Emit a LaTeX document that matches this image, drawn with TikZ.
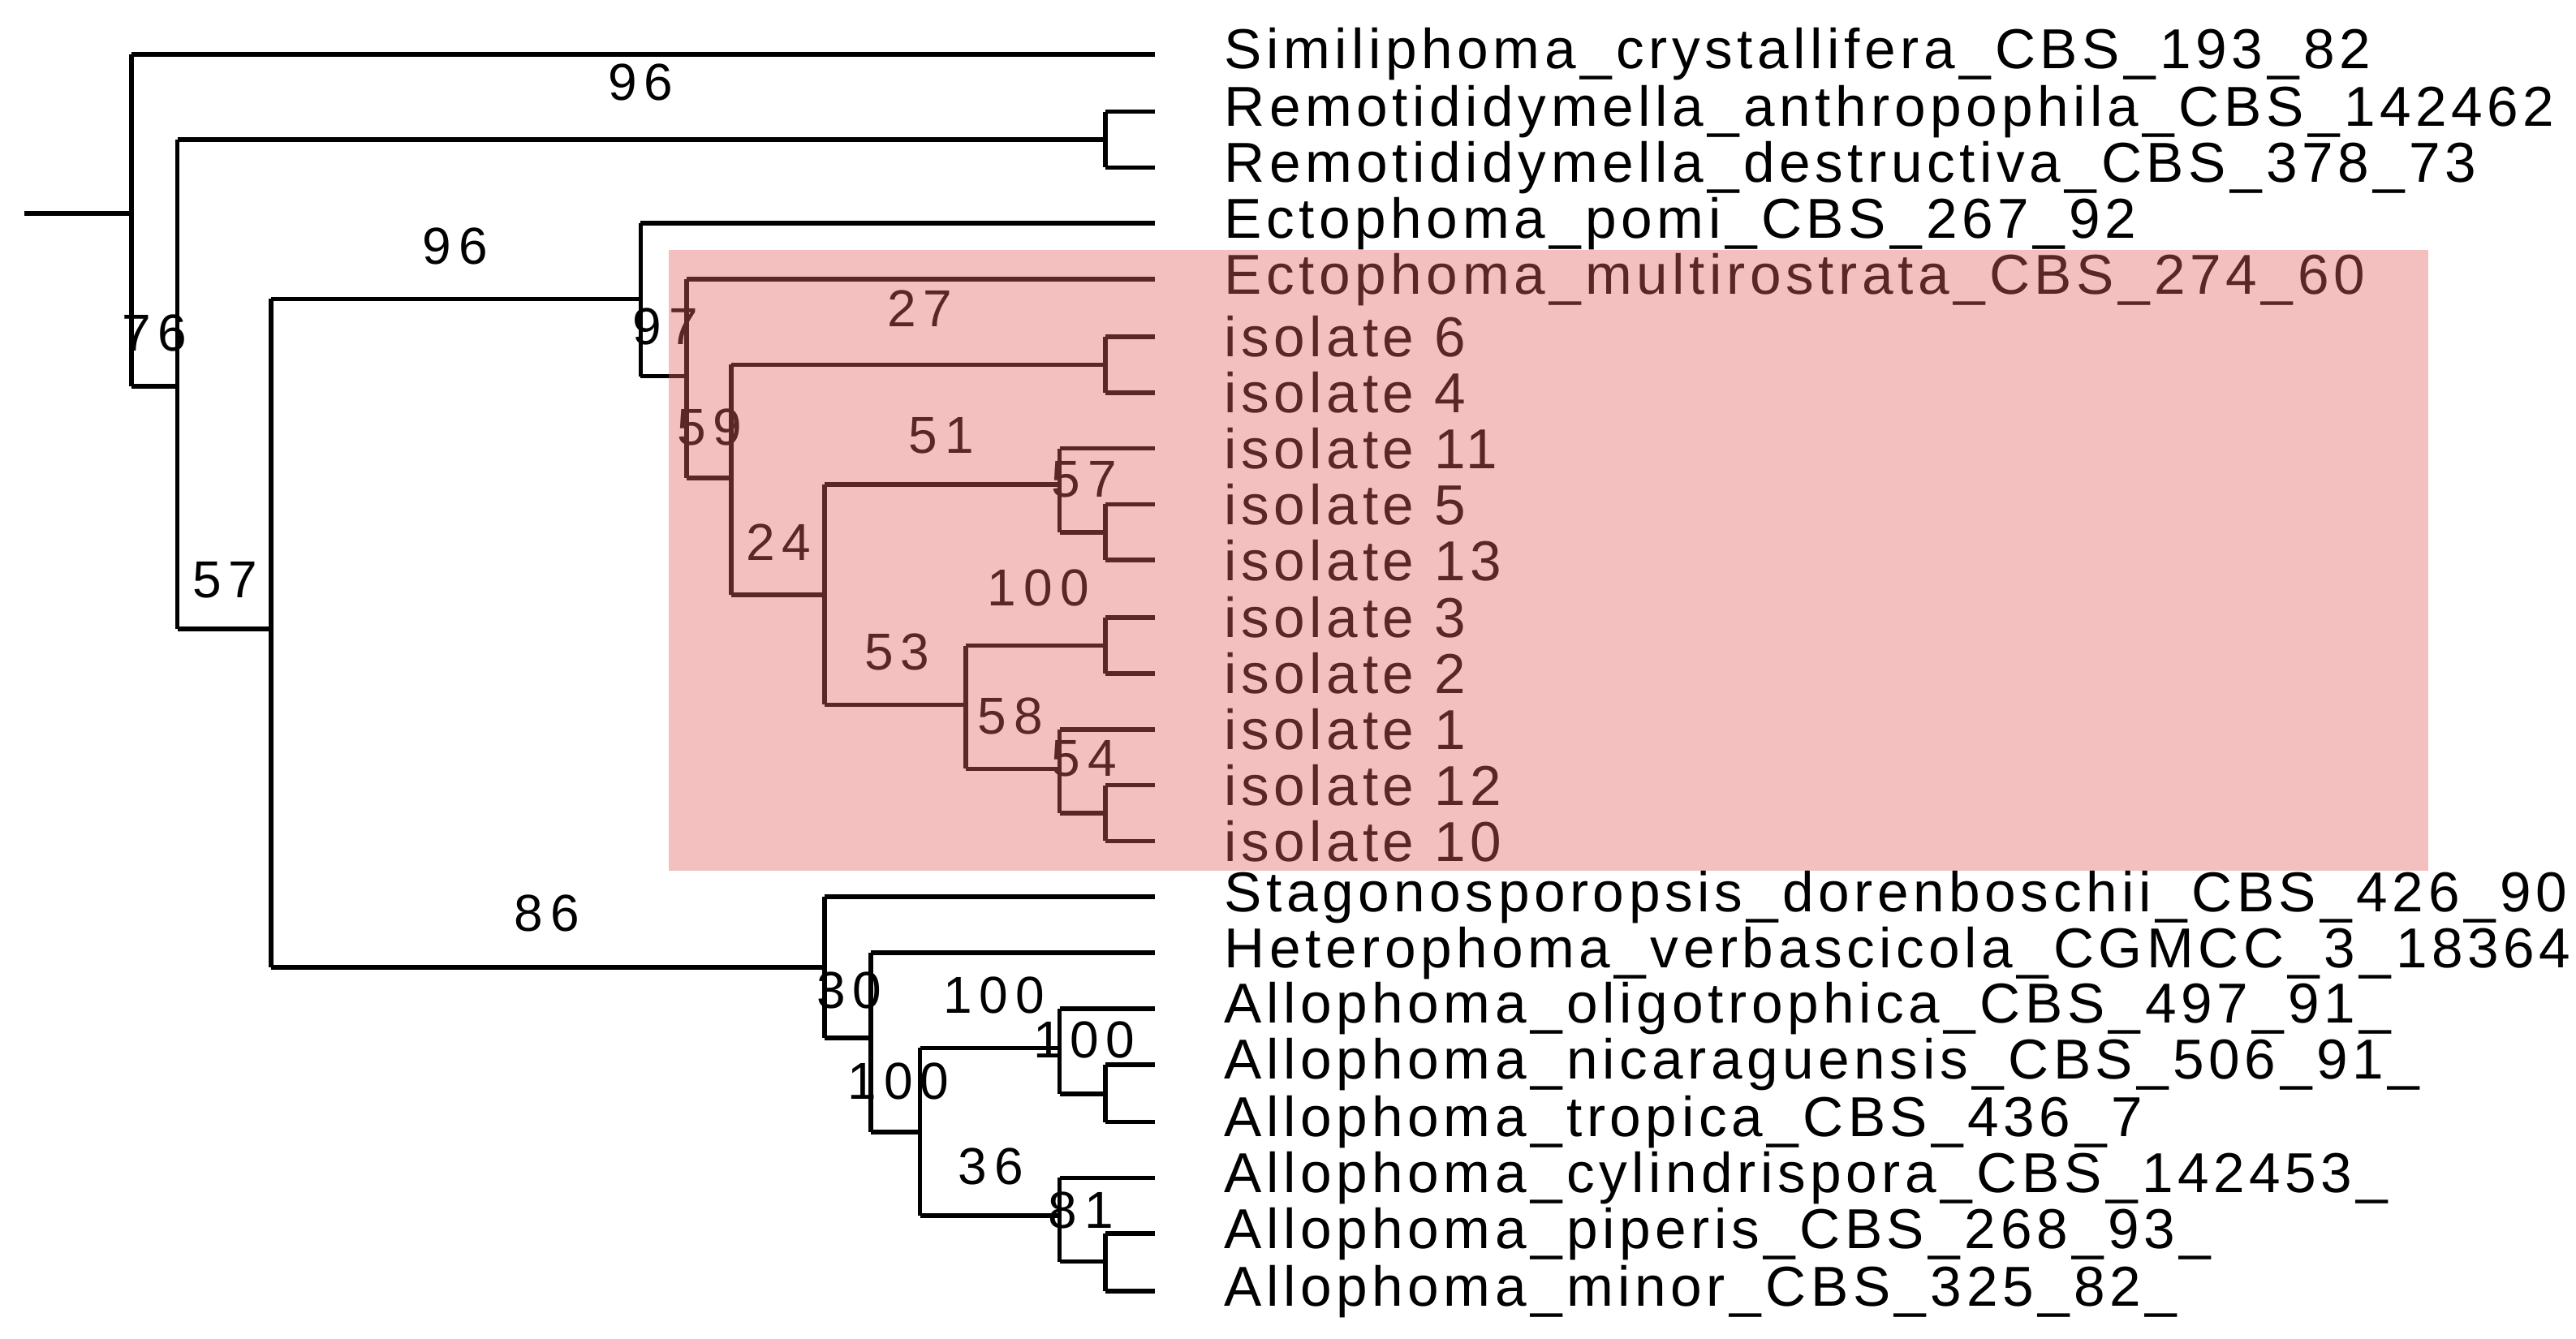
\documentclass[tikz,border=0pt]{standalone}
\usepackage{fontspec}
\setmainfont{Liberation Sans}
\newfontfamily\lfont[LetterSpace=8]{Liberation Sans}
\newfontfamily\nfont[LetterSpace=14]{Liberation Sans}
\begin{document}
\begin{tikzpicture}[x=0.02cm,y=-0.02cm,
 br/.style={line width=1.6pt},
 leaf/.style={anchor=west,inner sep=0pt,font=\lfont\fontsize{19.5}{20}\selectfont},
 bs/.style={inner sep=0pt,font=\nfont\fontsize{18}{20}\selectfont}]
\useasboundingbox (0,0) rectangle (1568,815);
% leaves
\foreach \n/\y/\t in {Sim/33/Similiphoma\_crystallifera\_CBS\_193\_82,
 Ran/68/Remotididymella\_anthropophila\_CBS\_142462,
 Rde/102/Remotididymella\_destructiva\_CBS\_378\_73,
 Epo/136/Ectophoma\_pomi\_CBS\_267\_92,
 Emu/170/Ectophoma\_multirostrata\_CBS\_274\_60,
 i6/205/isolate 6, i4/239/isolate 4, i11/273/isolate 11, i5/307/isolate 5,
 i13/341/isolate 13, i3/376/isolate 3, i2/410/isolate 2, i1/444/isolate 1,
 i12/478/isolate 12, i10/512/isolate 10,
 Sdo/546/Stagonosporopsis\_dorenboschii\_CBS\_426\_90,
 Hve/580/Heterophoma\_verbascicola\_CGMCC\_3\_18364,
 Aol/614/Allophoma\_oligotrophica\_CBS\_497\_91\_,
 Ani/648/Allophoma\_nicaraguensis\_CBS\_506\_91\_,
 Atr/683/Allophoma\_tropica\_CBS\_436\_7,
 Acy/717/Allophoma\_cylindrispora\_CBS\_142453\_,
 Api/751/Allophoma\_piperis\_CBS\_268\_93\_,
 Ami/786/Allophoma\_minor\_CBS\_325\_82\_}
 {\node[leaf] (\n) at (745,\y) {\t}; \coordinate (t\n) at (703,\y);}
% internal nodes
\coordinate (root) at (15,130);
\coordinate (a) at (80,130);
\coordinate (b) at (108,235);
\coordinate (r) at (673,85);
\coordinate (c) at (165,383);
\coordinate (d) at (390,182);
\coordinate (e) at (418,229);
\coordinate (f) at (445,291);
\coordinate (g) at (673,222);
\coordinate (h) at (502,362);
\coordinate (k) at (645,295);
\coordinate (l) at (673,324);
\coordinate (m) at (588,429);
\coordinate (n) at (673,393);
\coordinate (o) at (645,468);
\coordinate (p) at (673,495);
\coordinate (q) at (502,589);
\coordinate (s) at (530,632);
\coordinate (u) at (560,689);
\coordinate (v) at (645,638);
\coordinate (w) at (673,666);
\coordinate (x) at (645,740);
\coordinate (y) at (673,768);
% verticals
\foreach \nd/\tp/\bt in {a/tSim/b, b/r/c, r/tRan/tRde, c/d/q, d/tEpo/e, e/tEmu/f,
 f/g/h, g/ti6/ti4, h/k/m, k/ti11/l, l/ti5/ti13, m/n/o, n/ti3/ti2, o/ti1/p,
 p/ti12/ti10, q/tSdo/s, s/tHve/u, u/v/x, v/tAol/w, w/tAni/tAtr, x/tAcy/y, y/tApi/tAmi}
 {\draw[br] (\nd |- \tp) -- (\nd |- \bt);}
% horizontals
\draw[br] (root) -- (a);
\foreach \pa/\ch in {a/tSim, a/b, b/r, b/c, r/tRan, r/tRde, c/d, c/q, d/tEpo, d/e,
 e/tEmu, e/f, f/g, f/h, g/ti6, g/ti4, h/k, h/m, k/ti11, k/l, l/ti5, l/ti13,
 m/n, m/o, n/ti3, n/ti2, o/ti1, o/p, p/ti12, p/ti10, q/tSdo, q/s, s/tHve, s/u,
 u/v, u/x, v/tAol, v/w, w/tAni, w/tAtr, x/tAcy, x/y, y/tApi, y/tAmi}
 {\draw[br] (\pa |- \ch) -- (\ch);}
% bootstrap labels
\foreach \nm/\xx/\yy/\t in {L1/94/203/76, L2/390/50/96, L3/137/353/57, L4/277/150/96,
 L5/405/199/97, L6/432/260/59, L7/560/188/27, L8/474/330/24, L9/573/265/51,
 L10/660/292/57, L11/546/397/53, L12/632/358/100, L13/615/436/58, L14/660/462/54,
 L15/333/556/86, L16/517/603/30, L17/547/658/100, L18/605/606/100, L19/660/633/100,
 L20/603/710/36, L21/658/737/81}
 {\node[bs] (\nm) at (\xx,\yy) {\t};}
% highlight
\definecolor{hl}{RGB}{225,95,95}
\fill[hl,opacity=0.4] (407,152) rectangle (1478,530);
\end{tikzpicture}
\end{document}
